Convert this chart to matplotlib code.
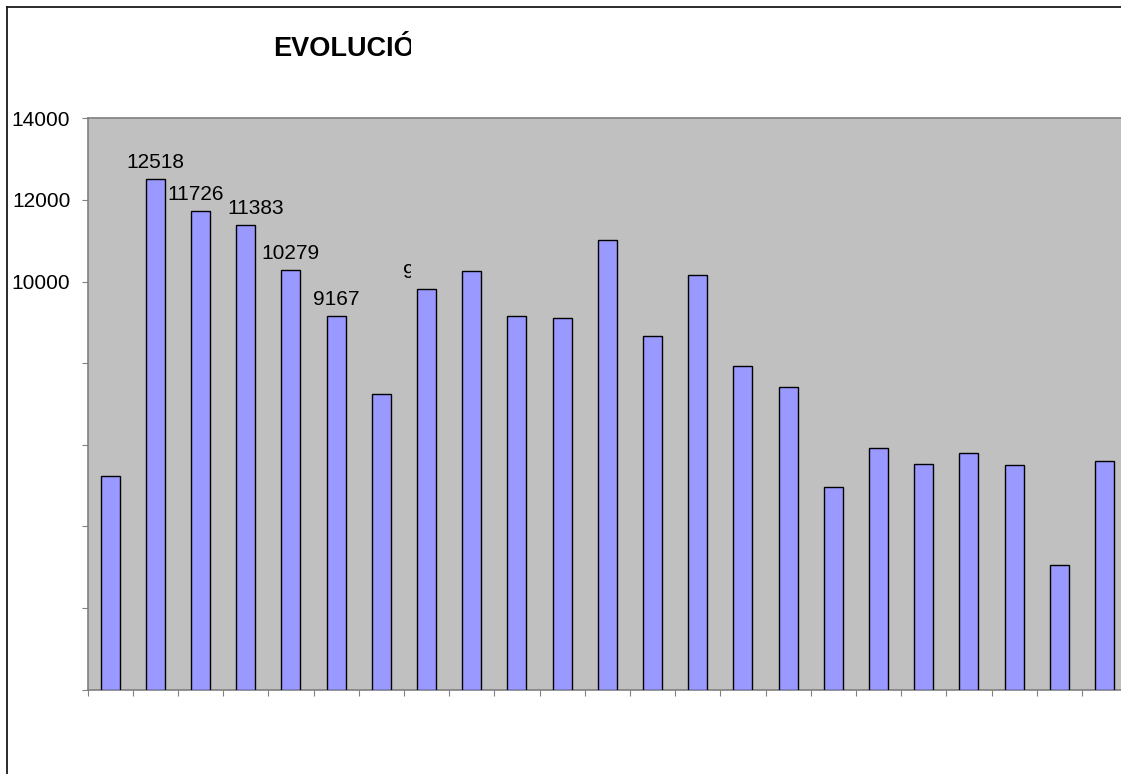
import numpy as np
import matplotlib
matplotlib.use("Agg")
import matplotlib.pyplot as plt
from matplotlib.patches import Rectangle
from matplotlib.lines import Line2D

plt.rcParams['font.family'] = ['Liberation Sans', 'DejaVu Sans']

# data
values = [5243, 12518, 11726, 11383, 10279, 9167, 7252, 9810, 10266, 9163, 9100,
          11018, 8673, 10168, 7938, 7417, 4959, 5929, 5537, 5800, 5505, 3048, 5603]
labelled = [1, 2, 3, 4, 5, 7]          # bars that carry a value label
label_text = ['12518', '11726', '11383', '10279', '9167', '9810']
yticks = [0, 2000, 4000, 6000, 8000, 10000, 12000, 14000]
ytick_labels = ['', '', '', '', '', '10000', '12000', '14000']
title = 'EVOLUCIÓ'

W, H = 1121, 774
fig = plt.figure(figsize=(W / 100, H / 100), dpi=100)
fig.patch.set_facecolor('white')
fig.patch.set_edgecolor('none')
fig.patch.set_linewidth(0)

# plot area (runs off the right edge like the original)
left, top, bottom, right = 87.5, 118.3, 689.7, 1135
ax = fig.add_axes([left / W, 1 - bottom / H, (right - left) / W, (bottom - top) / H])
ax.set_facecolor('#C0C0C0')

x = np.arange(len(values))
ax.bar(x, values, width=0.42, color='#9999FF', edgecolor='black', linewidth=1.0, zorder=3)

cat_px = 45.2
ax.set_xlim(-0.5, -0.5 + (right - left) / cat_px)
ax.set_ylim(0, 14000)

ax.set_yticks(yticks)
ax.set_yticklabels(ytick_labels)
ax.set_xticks(np.arange(len(values) + 1) - 0.5)
ax.set_xticklabels([])
ax.tick_params(axis='y', length=4.4, width=0.8, color='#808080', pad=8, labelsize=15)
ax.tick_params(axis='x', length=4.4, width=0.8, color='#808080', direction='out')
for s in ['left', 'bottom', 'top']:
    ax.spines[s].set_color('#808080')
    ax.spines[s].set_linewidth(1.2)
ax.spines['right'].set_visible(False)

# anything right of this column is hidden in the original
clip = Rectangle((0, 0), 411 / W, 1, transform=fig.transFigure, visible=False)
fig.add_artist(clip)

dx = {2: -5, 3: 10}
for i, t in zip(labelled, label_text):
    txt = ax.annotate(t, (x[i], values[i]), xytext=(dx.get(i, 0) * 0.72, 5),
                      textcoords='offset points', ha='center', va='bottom',
                      fontsize=15, color='black', zorder=4)
    if i == 7:
        txt.set_clip_on(True)
        txt.set_clip_path(clip)
    else:
        txt.set_clip_on(False)

tt = fig.text(273.5 / W, 1 - 56 / H, title, fontsize=19.5, fontweight='bold',
              ha='left', va='baseline', color='black')
tt.set_clip_on(True)
tt.set_clip_path(clip)

# outer chart frame
fig.add_artist(Line2D([7 / W, 7 / W], [-0.1, 1 - 7 / H], transform=fig.transFigure,
                      color='#1a1a1a', linewidth=1.3))
fig.add_artist(Line2D([7 / W, 1.1], [1 - 7 / H, 1 - 7 / H], transform=fig.transFigure,
                      color='#1a1a1a', linewidth=1.3))

plt.savefig('out.png', dpi=100)
